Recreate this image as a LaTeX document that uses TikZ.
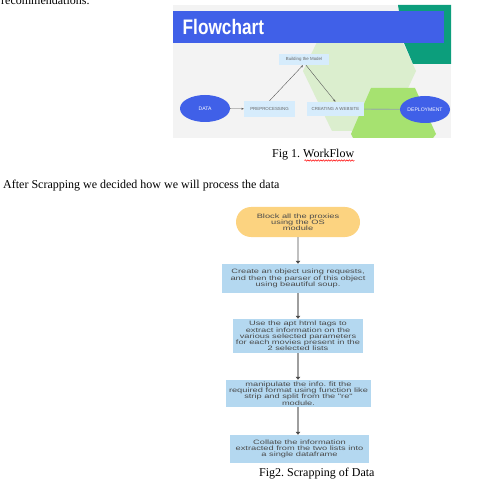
\documentclass[tikz,border=0pt]{standalone}
\usepackage{fontspec}
\setmainfont{Liberation Serif}
\setsansfont{Liberation Sans}
\newfontfamily\titlefont[FakeStretch=0.82]{Liberation Sans}
\newfontfamily\widesans[FakeStretch=1.47]{Liberation Sans}
\usepackage{tikz}
\usetikzlibrary{arrows.meta,shapes,positioning,decorations.pathmorphing}
\definecolor{slidegray}{RGB}{243,243,243}
\definecolor{bannerblue}{RGB}{64,96,232}
\definecolor{tealgreen}{RGB}{12,158,124}
\definecolor{palegreen}{RGB}{219,238,206}
\definecolor{limegreen}{RGB}{166,226,112}
\definecolor{labelblue}{RGB}{214,236,252}
\definecolor{stepblue}{RGB}{180,216,240}
\definecolor{proxyorange}{RGB}{252,211,128}
\definecolor{textgray}{RGB}{74,74,74}
\frenchspacing

\begin{document}
\begin{tikzpicture}[x=1pt, y=-1pt,
    caption/.style={anchor=base west, inner sep=0pt, font=\fontsize{12}{14}\selectfont},
    label/.style={fill=labelblue, inner sep=0pt, text=black!60, font=\sffamily\fontsize{4.4}{5}\selectfont},
    blob/.style={ellipse, fill=bannerblue, inner sep=0pt, minimum width=50pt, minimum height=27pt, text=white, font=\sffamily\fontsize{5.1}{6}\selectfont},
    stepbox/.style={fill=stepblue, inner sep=0pt, align=center, text=textgray, font=\widesans\fontsize{6.3}{6.2}\selectfont},
    link/.style={draw=black!65, line width=0.4pt, -{Stealth[length=2.5pt, width=2pt]}},
    flow/.style={draw=black!38, line width=1.3pt, -{Triangle[length=3pt, width=4.5pt, color=black!70]}}]
    \useasboundingbox (0,0) rectangle (493,492);

    % Text above the first figure
    \node[caption] (rec) at (1,4.5) {recommendations.};

    % Slide background
    \fill[slidegray] (173,5) rectangle (451,138);
    \fill[palegreen] (332,11) -- (388,11) -- (416,71) -- (388,131) -- (332,131) -- (303,71) -- cycle;
    \fill[limegreen] (371,88) -- (415,88) -- (436,134) -- (433,138) -- (353,138) -- (351,134) -- cycle;
    \fill[tealgreen] (398,5) -- (451,5) -- (451,64) -- (413,64) -- (404,43) -- cycle;
    \fill[bannerblue] (173,11) rectangle (444,43);
    \node[anchor=base west, inner sep=0pt, text=white, font=\titlefont\bfseries\fontsize{21}{24}\selectfont] (title) at (182.5,34.3) {Flowchart};

    % Workflow
    \node[blob] (data) at (205,108.5) {DATA};
    \node[label, minimum width=51pt, minimum height=16pt] (prep) at (269.5,109) {PREPROCESSING};
    \node[label, minimum width=50pt, minimum height=11pt] (model) at (304,59.5) {Building the Model};
    \node[label, minimum width=57pt, minimum height=14pt] (web) at (335.5,109) {CREATING A WEBSITE};
    \node[blob] (deploy) at (425,109.5) {DEPLOYMENT};

    \draw[link] (data) -- (prep);
    \draw[link] (prep.north) -- ([xshift=-1pt]model.south);
    \draw[link] ([xshift=2pt]model.south) -- (web.north);
    \draw[draw=black!70!green!40, line width=1.1pt] (web) -- (deploy);

    % Caption 1, with the spelling mark
    \node[caption] (figA) at (272,157.5) {Fig 1. WorkFlow};
    \draw[red, line width=0.5pt, decorate, decoration={snake, segment length=2.6pt, amplitude=0.7pt}]
        ([xshift=-50pt, yshift=-3pt]figA.base east) -- ([yshift=-3pt]figA.base east);

    \node[caption] (after) at (3,189) {After Scrapping we decided how we will process the data};

    % Scrapping steps
    \node[rounded rectangle, fill=proxyorange, inner sep=0pt, minimum width=124pt, minimum height=30pt,
          align=center, text=textgray, font=\widesans\fontsize{6.3}{6.2}\selectfont] (proxy) at (298,222)
          {Block all the proxies\\using the OS\\module};
    \node[stepbox, minimum width=152pt, minimum height=29pt] (soup) at (298,278.5)
          {Create an object using requests,\\and then the parser of this object\\using beautiful soup.};
    \node[stepbox, minimum width=130pt, minimum height=34pt] (tags) at (298,336)
          {Use the apt html tags to\\extract information on the\\various selected parameters\\for each movies present in the\\2 selected lists};
    \node[stepbox, minimum width=145pt, minimum height=27pt] (fmt) at (298.5,393.5)
          {manipulate the info. fit the\\required format using function like\\strip and split from the "re"\\module.};
    \node[stepbox, minimum width=139pt, minimum height=28pt] (collate) at (299.5,449)
          {Collate the information\\extracted from the two lists into\\a single dataframe};

    \draw[flow] (proxy) -- (proxy |- soup.north);
    \draw[flow] (soup) -- (soup |- tags.north);
    \draw[flow] (tags) -- (tags |- fmt.north);
    \draw[flow] (fmt.south -| tags) -- (tags |- collate.north);

    % Caption 2
    \node[caption] (figB) at (259,476) {Fig2. Scrapping of Data};
\end{tikzpicture}
\end{document}
